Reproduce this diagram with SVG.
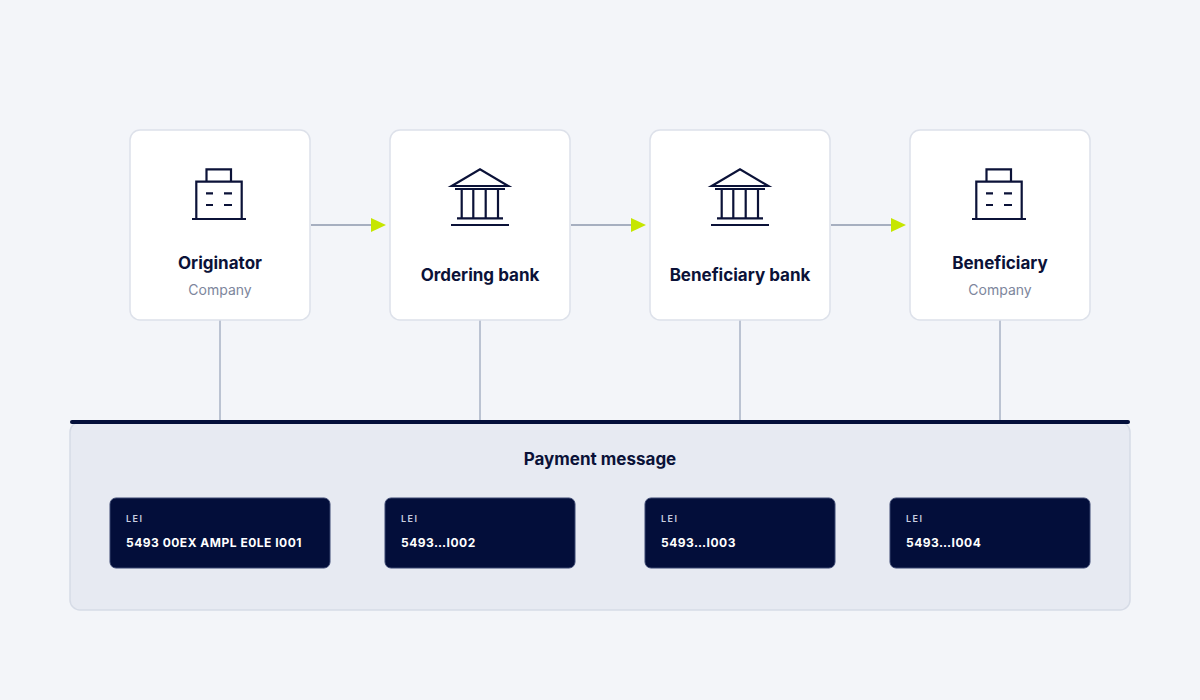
<svg xmlns="http://www.w3.org/2000/svg" width="1200" height="700" viewBox="0 0 1200 700">
<style>
.card{fill:#fff;stroke:#dde1ea;stroke-width:1.5}
.ic{fill:none;stroke:#0b1238;stroke-width:2.2}
.t{font-family:Inter,"Liberation Sans",sans-serif;font-weight:700;font-size:17px;fill:#0b1238;text-anchor:middle}
.s{font-family:Inter,"Liberation Sans",sans-serif;font-size:14px;fill:#7d869c;text-anchor:middle}
.lei{fill:#030e3a;stroke:#3a4670;stroke-width:1}
.l1{font-family:Inter,"Liberation Sans",sans-serif;font-size:9px;font-weight:600;fill:#c9cfe0;letter-spacing:1.5px}
.l2{font-family:Inter,"Liberation Sans",sans-serif;font-size:12px;font-weight:700;fill:#fff;letter-spacing:0.5px}
.cn{stroke:#a9b2c4;stroke-width:1.5}
.ar{stroke:#8d97ad;stroke-width:1.5}
</style>
<defs>
<g id="bld"><path class="ic" d="M-13.5 181.7V169.3H11V181.7M-23.7 219V181.7H21.7V219M-28 219H26M-14 193.3H-7M4 193.3H12M-14 205H-7M4 205H12"/></g>
<g id="bank"><path class="ic" d="M-28.3 186L0 169.3L28.3 186ZM-25 189H25M-18.3 189V218M-6.7 189V218M5.7 189V218M18 189V218M-23 218.3H23M-29 225H29"/></g>
</defs>
<rect width="1200" height="700" fill="#f3f5f9"/>
<rect x="70" y="422" width="1060" height="188" rx="10" fill="#e7eaf2" stroke="#d6dbe6" stroke-width="1.5"/>
<g id="connectors">
<line class="cn" x1="220" y1="320" x2="220" y2="421"/>
<line class="cn" x1="480" y1="320" x2="480" y2="421"/>
<line class="cn" x1="740" y1="320" x2="740" y2="421"/>
<line class="cn" x1="1000" y1="320" x2="1000" y2="421"/>
<line class="ar" x1="311" y1="225" x2="372" y2="225"/><path d="M371 218L386 225L371 232Z" fill="#c6e600"/>
<line class="ar" x1="571" y1="225" x2="632" y2="225"/><path d="M631 218L646 225L631 232Z" fill="#c6e600"/>
<line class="ar" x1="831" y1="225" x2="892" y2="225"/><path d="M891 218L906 225L891 232Z" fill="#c6e600"/>
</g>
<rect x="70" y="420" width="1060" height="4" rx="2" fill="#030e3a"/>
<g id="originator"><rect class="card" x="130" y="130" width="180" height="190" rx="10"/><use href="#bld" x="220"/><text class="t" x="220" y="269">Originator</text><text class="s" x="220" y="295">Company</text></g>
<g id="ordering"><rect class="card" x="390" y="130" width="180" height="190" rx="10"/><use href="#bank" x="480"/><text class="t" x="480" y="281">Ordering bank</text></g>
<g id="benbank"><rect class="card" x="650" y="130" width="180" height="190" rx="10"/><use href="#bank" x="740"/><text class="t" x="740" y="281">Beneficiary bank</text></g>
<g id="beneficiary"><rect class="card" x="910" y="130" width="180" height="190" rx="10"/><use href="#bld" x="1000"/><text class="t" x="1000" y="269">Beneficiary</text><text class="s" x="1000" y="295">Company</text></g>
<g id="payment"><text class="t" x="600" y="465">Payment message</text>
<rect class="lei" x="110" y="498" width="220" height="70" rx="6"/><text class="l1" x="126" y="522">LEI</text><text class="l2" x="126" y="547">5493 00EX AMPL E0LE I001</text>
<rect class="lei" x="385" y="498" width="190" height="70" rx="6"/><text class="l1" x="401" y="522">LEI</text><text class="l2" x="401" y="547">5493…I002</text>
<rect class="lei" x="645" y="498" width="190" height="70" rx="6"/><text class="l1" x="661" y="522">LEI</text><text class="l2" x="661" y="547">5493…I003</text>
<rect class="lei" x="890" y="498" width="200" height="70" rx="6"/><text class="l1" x="906" y="522">LEI</text><text class="l2" x="906" y="547">5493…I004</text>
</g>
</svg>
